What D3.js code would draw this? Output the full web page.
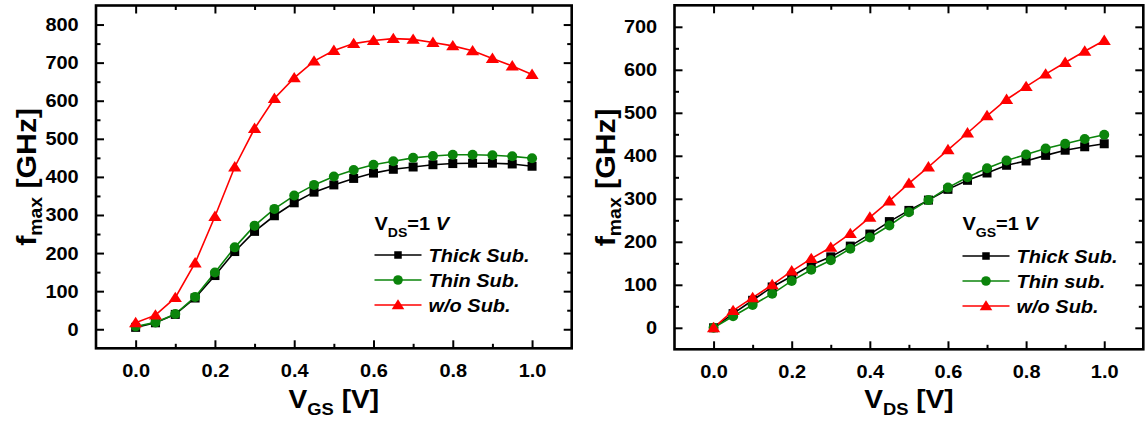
<!DOCTYPE html>
<html>
<head>
<meta charset="utf-8">
<script src="https://cdn.jsdelivr.net/npm/d3@7"></script>
<style>
  html, body { margin: 0; padding: 0; background: #fff; }
  svg { display: block; }
  text { font-family: "Liberation Sans", Arial, sans-serif; font-weight: bold; fill: #000; }
</style>
</head>
<body>
<svg id="chart" width="1145" height="428"></svg>
<script>
// Bias points (V) shared by both sweeps
const bias = [0.00, 0.05, 0.10, 0.15, 0.20, 0.25, 0.30, 0.35, 0.40, 0.45, 0.50,
              0.55, 0.60, 0.65, 0.70, 0.75, 0.80, 0.85, 0.90, 0.95, 1.00];

// fmax [GHz] vs VGS at VDS = 1 V
const vgsThick = [5, 17, 39, 82, 141, 204, 257, 298, 332, 360, 379,
                  396, 410, 420, 426, 432, 435, 436, 436, 434, 428];
const vgsThin  = [7, 18, 40, 85, 149, 215, 272, 316, 351, 379, 401,
                  418, 432, 441, 450, 455, 458, 458, 457, 454, 449];
const vgsNoSub = [17, 37, 83, 174, 296, 426, 527, 606, 660, 704, 732,
                  750, 758, 763, 761, 753, 744, 731, 711, 691, 669];

// fmax [GHz] vs VDS at VGS = 1 V
const vdsThick = [0, 33, 64, 95, 120, 146, 165, 190, 218, 247, 273,
                  297, 322, 343, 360, 378, 388, 401, 413, 421, 428];
const vdsThin  = [0, 27, 53, 79, 109, 135, 157, 184, 210, 238, 269,
                  297, 326, 350, 371, 389, 403, 417, 428, 439, 449];
const vdsNoSub = [0, 40, 70, 100, 132, 161, 187, 219, 257, 295, 336,
                  374, 414, 453, 493, 531, 561, 590, 617, 643, 668];

// Axis ticks
const xTicks = [0.0, 0.2, 0.4, 0.6, 0.8, 1.0];
const yTicksLeft  = [0, 100, 200, 300, 400, 500, 600, 700, 800];
const yTicksRight = [0, 100, 200, 300, 400, 500, 600, 700];

// Legend labels
const legendLeft  = ["Thick Sub.", "Thin Sub.", "w/o Sub."];
const legendRight = ["Thick Sub.", "Thin sub.", "w/o Sub."];

const svg = d3.select("#chart");
const WIDEN = 1.08;   // slightly wide lettering

const seriesStyle = [
  { color: "#000000", shape: "square" },
  { color: "#0b840b", shape: "circle" },
  { color: "#ff0000", shape: "triangle" }
];

function drawMarker(g, shape, color, x, y, s) {
  if (shape === "square") {
    g.append("rect").attr("x", x - s / 2).attr("y", y - s / 2)
      .attr("width", s).attr("height", s).attr("fill", color);
  } else if (shape === "circle") {
    g.append("circle").attr("cx", x).attr("cy", y).attr("r", s / 2 + 0.3).attr("fill", color);
  } else {
    const h = s * 0.9;
    g.append("path")
      .attr("d", `M${x},${y - h * 0.6}L${x + s * 0.6},${y + h * 0.45}L${x - s * 0.6},${y + h * 0.45}Z`)
      .attr("fill", color);
  }
}

// text placed at (x, y) and widened horizontally about that anchor
function wideText(g, x, y, size) {
  return g.append("text")
    .attr("transform", `translate(${x},${y}) scale(${WIDEN},1)`)
    .attr("font-size", size);
}

function drawPanel(cfg) {
  const g = svg.append("g");
  const x = d3.scaleLinear().domain([-0.1, 1.1]).range([cfg.left, cfg.right]);
  const y = d3.scaleLinear().domain(cfg.yDomain).range([cfg.bottom, cfg.top]);

  const xMinor = d3.range(0.1, 1.0, 0.2);
  const yMinor = cfg.yTicks.map(v => v + 50).filter(v => v < cfg.yDomain[1]);
  const majorLen = 8, minorLen = 4.5;

  // bottom axis (ticks inward) with labels
  g.append("g").attr("transform", `translate(0,${cfg.bottom})`)
    .call(d3.axisBottom(x).tickValues(xTicks).tickSizeInner(-majorLen).tickSizeOuter(0)
      .tickPadding(majorLen + 8).tickFormat(d3.format(".1f")))
    .call(a => a.select(".domain").remove());
  g.append("g").attr("transform", `translate(0,${cfg.bottom})`)
    .call(d3.axisBottom(x).tickValues(xMinor).tickSizeInner(-minorLen).tickSizeOuter(0).tickFormat(""))
    .call(a => a.select(".domain").remove());
  // top axis (ticks inward, no labels)
  g.append("g").attr("transform", `translate(0,${cfg.top})`)
    .call(d3.axisTop(x).tickValues(xTicks).tickSizeInner(-majorLen).tickSizeOuter(0).tickFormat(""))
    .call(a => a.select(".domain").remove());
  g.append("g").attr("transform", `translate(0,${cfg.top})`)
    .call(d3.axisTop(x).tickValues(xMinor).tickSizeInner(-minorLen).tickSizeOuter(0).tickFormat(""))
    .call(a => a.select(".domain").remove());
  // left axis with labels
  g.append("g").attr("transform", `translate(${cfg.left},0)`)
    .call(d3.axisLeft(y).tickValues(cfg.yTicks).tickSizeInner(-majorLen).tickSizeOuter(0)
      .tickPadding(majorLen + 8))
    .call(a => a.select(".domain").remove());
  g.append("g").attr("transform", `translate(${cfg.left},0)`)
    .call(d3.axisLeft(y).tickValues(yMinor).tickSizeInner(-minorLen).tickSizeOuter(0).tickFormat(""))
    .call(a => a.select(".domain").remove());
  // right axis
  g.append("g").attr("transform", `translate(${cfg.right},0)`)
    .call(d3.axisRight(y).tickValues(cfg.yTicks).tickSizeInner(-majorLen).tickSizeOuter(0).tickFormat(""))
    .call(a => a.select(".domain").remove());
  g.append("g").attr("transform", `translate(${cfg.right},0)`)
    .call(d3.axisRight(y).tickValues(yMinor).tickSizeInner(-minorLen).tickSizeOuter(0).tickFormat(""))
    .call(a => a.select(".domain").remove());

  g.selectAll(".tick line").attr("stroke", "#000").attr("stroke-width", 2);
  g.selectAll(".tick text")
    .attr("font-family", '"Liberation Sans", Arial, sans-serif')
    .attr("font-weight", "bold").attr("font-size", 18.5).attr("fill", "#000")
    .attr("transform", `scale(${WIDEN},1)`);

  // frame
  g.append("rect")
    .attr("x", cfg.left).attr("y", cfg.top)
    .attr("width", cfg.right - cfg.left).attr("height", cfg.bottom - cfg.top)
    .attr("fill", "none").attr("stroke", "#000").attr("stroke-width", 2.6);

  // series
  const line = d3.line().x(d => x(d[0])).y(d => y(d[1]));
  cfg.series.forEach((vals, i) => {
    const st = seriesStyle[i];
    const pts = bias.map((b, k) => [b, vals[k]]);
    g.append("path").datum(pts).attr("d", line)
      .attr("fill", "none").attr("stroke", st.color).attr("stroke-width", 1.6);
  });
  cfg.series.forEach((vals, i) => {
    const st = seriesStyle[i];
    const mg = g.append("g");
    bias.forEach((b, k) => {
      const s = st.shape === "square" ? 9 : st.shape === "circle" ? 9.4 : 11;
      drawMarker(mg, st.shape, st.color, x(b), y(vals[k]), s);
    });
  });

  // legend
  const lg = g.append("g");
  const t = wideText(lg, cfg.legX, cfg.legY, 18.5);
  t.append("tspan").text("V");
  t.append("tspan").attr("dy", 7).attr("font-size", 13).text(cfg.legSub);
  t.append("tspan").attr("dy", -7).text("=1 ");
  t.append("tspan").attr("font-style", "italic").text("V");

  cfg.labels.forEach((lab, i) => {
    const st = seriesStyle[i];
    const ry = cfg.legRows[i];
    lg.append("line").attr("x1", cfg.legX).attr("x2", cfg.legX + 47)
      .attr("y1", ry).attr("y2", ry).attr("stroke", st.color).attr("stroke-width", 1.6);
    const s = st.shape === "square" ? 7.5 : st.shape === "circle" ? 9 : 10.5;
    drawMarker(lg, st.shape, st.color, cfg.legX + 23.5, ry, s);
    wideText(lg, cfg.legX + 54, ry + 6.5, 18.5)
      .attr("font-style", "italic").text(lab);
  });

  // axis titles
  const xt = wideText(g, (cfg.left + cfg.right) / 2, 408, 26)
    .attr("text-anchor", "middle");
  xt.append("tspan").text("V");
  xt.append("tspan").attr("dy", 7).attr("font-size", 17).text(cfg.xSub);
  xt.append("tspan").attr("dy", -7).text(" [V]");

  const cy = (cfg.top + cfg.bottom) / 2;
  const yt = g.append("text")
    .attr("transform", `translate(${cfg.left - 60},${cy}) rotate(-90) scale(${WIDEN},1)`)
    .attr("text-anchor", "middle").attr("font-size", 28);
  yt.append("tspan").text("f");
  yt.append("tspan").attr("dy", 6).attr("font-size", 18).text("max");
  yt.append("tspan").attr("dy", -6).text(" [GHz]");
}

drawPanel({
  left: 96, right: 571.7, top: 5.5, bottom: 348.3,
  yDomain: [-50, 850], yTicks: yTicksLeft,
  series: [vgsThick, vgsThin, vgsNoSub], labels: legendLeft,
  legX: 374.5, legY: 230, legRows: [255, 280, 305], legSub: "DS",
  xSub: "GS"
});

drawPanel({
  left: 674.5, right: 1143.3, top: 5.3, bottom: 349.3,
  yDomain: [-50, 750], yTicks: yTicksRight,
  series: [vdsThick, vdsThin, vdsNoSub], labels: legendRight,
  legX: 962.5, legY: 230, legRows: [256, 281, 306], legSub: "GS",
  xSub: "DS"
});
</script>
</body>
</html>
